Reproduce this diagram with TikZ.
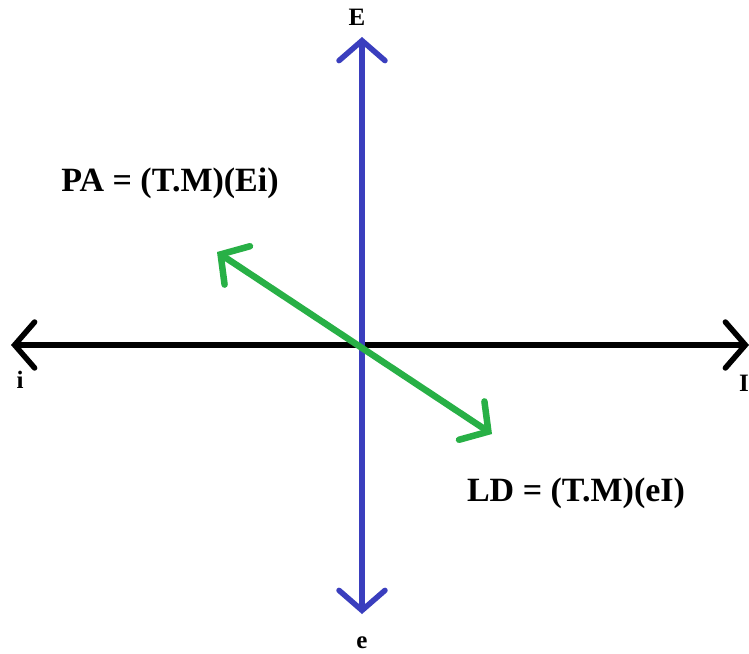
\documentclass[tikz,border=0pt]{standalone}
\usepackage{fontspec}
\setmainfont{Liberation Serif}
\usetikzlibrary{arrows.meta}
\definecolor{axblue}{RGB}{58,62,190}
\definecolor{axgreen}{RGB}{40,176,70}
\tikzset{
  barb/.style={line width=5.5pt, line cap=round, line join=round,
    arrows={Straight Barb[length=20pt,width=46pt,line cap=round]-Straight Barb[length=20pt,width=46pt,line cap=round]}},
  axlabel/.style={font=\fontsize{25}{28}\selectfont\bfseries, inner sep=0pt},
  eqlabel/.style={font=\fontsize{34}{38}\selectfont\bfseries, inner sep=0pt}
}
\begin{document}
\begin{tikzpicture}[x=1pt,y=-1pt]
\useasboundingbox[fill=white] (0,0) rectangle (749,653);
\coordinate (L) at (11,345);
\coordinate (R) at (749,345);
\coordinate (T) at (362,37);
\coordinate (B) at (362,614);
\coordinate (G1) at (217,252);
\coordinate (G2) at (492,434);
\draw[barb, black] (L) -- (R);
\draw[barb, axblue] (T) -- (B);
\draw[barb, axgreen, line width=6.5pt] (G1) -- (G2);
\node[axlabel] (lE) at (357,17) {E};
\node[axlabel] (le) at (362,643) {e};
\node[axlabel] (li) at (20,380) {i};
\node[axlabel, anchor=west] (lI) at (739,383) {I};
\node[eqlabel] (pa) at (170,183) {PA = (T.M)(Ei)};
\node[eqlabel] (ld) at (576,493) {LD = (T.M)(eI)};
\end{tikzpicture}
\end{document}
